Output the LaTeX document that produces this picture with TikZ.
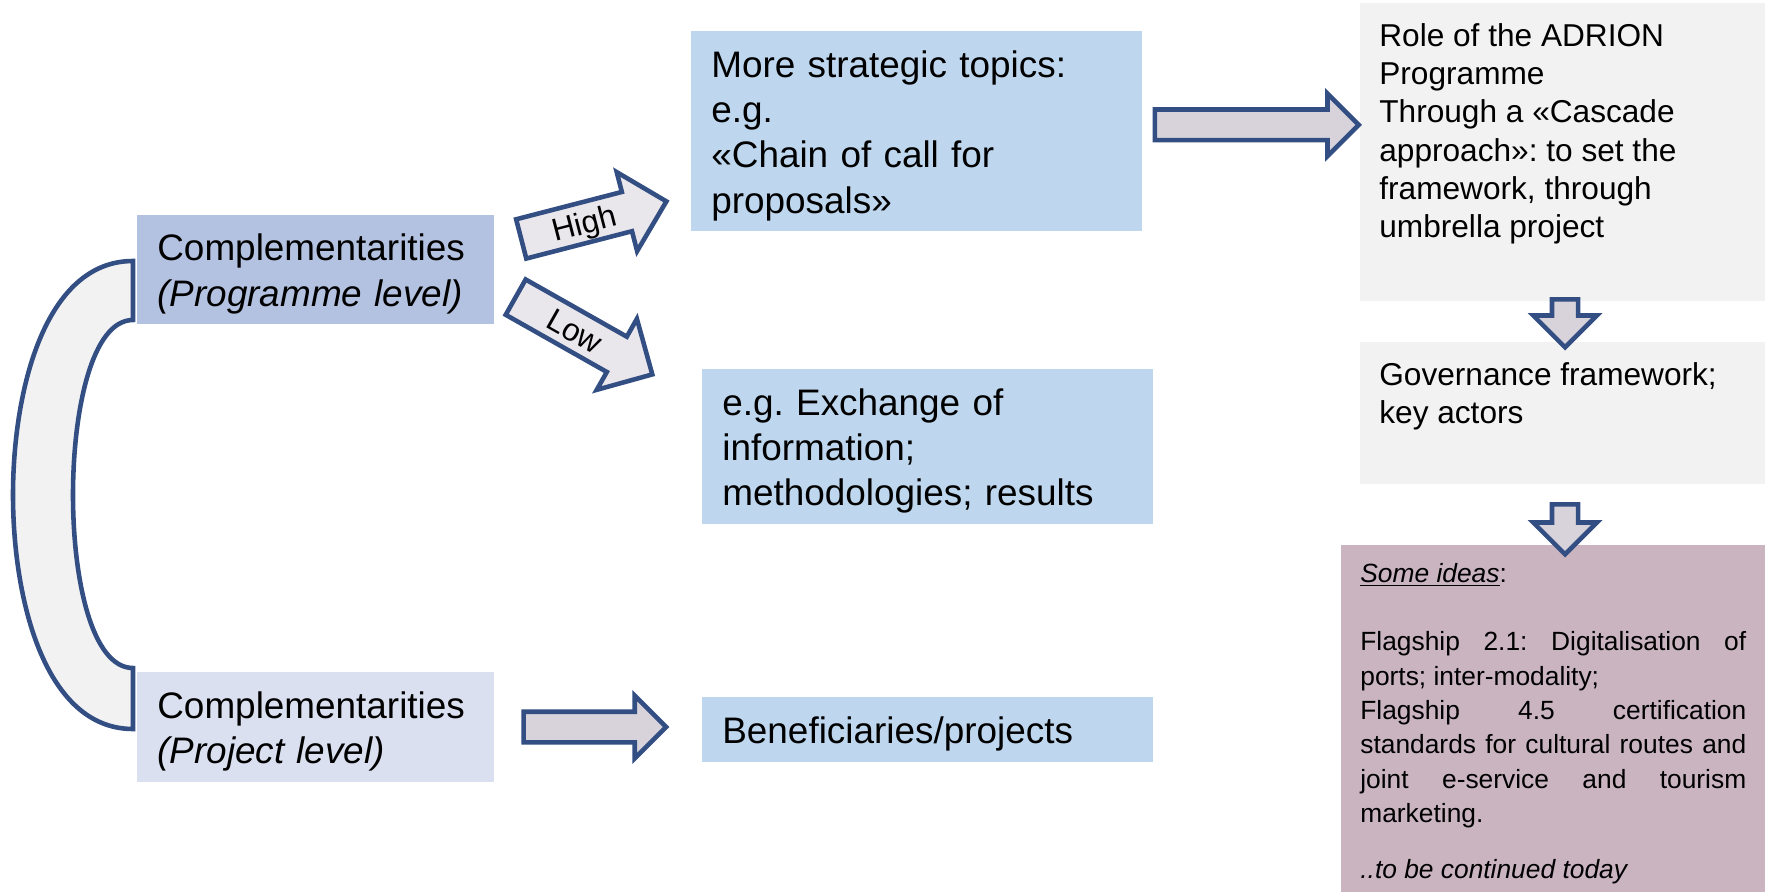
\documentclass[tikz,border=0pt]{standalone}
\usepackage{fontspec}
\setmainfont{Liberation Sans}
\usepackage{tikz}
\usetikzlibrary{positioning}
\usetikzlibrary{shapes.arrows}
\frenchspacing
\definecolor{progblue}{RGB}{180,194,225}
\definecolor{projblue}{RGB}{218,224,240}
\definecolor{topicblue}{RGB}{190,215,238}
\definecolor{rolegray}{RGB}{242,242,242}
\definecolor{ideamauve}{RGB}{201,180,192}
\definecolor{arrowline}{RGB}{50,78,130}
\definecolor{arrowfill}{RGB}{216,211,219}
\definecolor{tiltfill}{RGB}{233,231,236}
\tikzset{
tile/.style={ % Sets the properties for each coloured box
rectangle, anchor=north west,
inner xsep=0.4cm, inner ysep=0pt,
align=left,
execute at begin node={\rule{0pt}{0.95em}}, % text sits a bit low
font=\fontsize{21}{25.8}\selectfont},
toptile/.style={ % Boxes whose text starts at the top
rectangle, anchor=north west,
inner xsep=0.38cm, inner ysep=0.4cm},
fatarrow/.style={ % Block arrows between the boxes
single arrow, draw=arrowline, fill=arrowfill,
line width=2.6pt, inner sep=0pt,
text height=0.52cm, text depth=0pt,
single arrow tip angle=90,
single arrow head extend=0.32cm},
droparrow/.style={
fatarrow, rotate=-90,
text height=0.43cm,
single arrow head extend=0.375cm},
tiltarrow/.style={ % High / Low arrows, text inside
fatarrow, fill=tiltfill,
text height=0.5875cm, text depth=0.1325cm,
single arrow head extend=0.41cm,
font=\fontsize{18}{20}\selectfont}}
\newcommand{\topbox}[3]{\parbox[t][#1][t]{#2}{\raggedright #3}}

\begin{document}
\begin{tikzpicture}[x=0.02cm, y=-0.02cm]
\useasboundingbox (0,0) rectangle (1765,892);
\node[tile, fill=progblue, minimum width=7.14cm, minimum height=2.18cm, text width=6.34cm] (prog) at (137,215) {Complementarities\\\textit{(Programme level)}};
\node[tile, fill=projblue, minimum width=7.14cm, minimum height=2.2cm, text width=6.34cm] (proj) at (137,672) {Complementarities\\\textit{(Project level)}};
\node[tile, fill=topicblue, minimum width=9.02cm, minimum height=4.0cm, text width=8.22cm] (strat) at (691,31) {More strategic topics:\\e.g.\\«Chain of call for\\proposals»};
\node[tile, fill=topicblue, minimum width=9.02cm, minimum height=3.1cm, text width=8.22cm] (exch) at (702,369) {e.g. Exchange of\\information;\\methodologies; results};
\node[tile, fill=topicblue, minimum width=9.02cm, minimum height=1.3cm, text width=8.22cm] (benef) at (702,697) {Beneficiaries/projects};
\node[toptile, fill=rolegray] (role) at (1360,3) {\topbox{5.16cm}{7.34cm}{\fontsize{18}{21.8}\selectfont Role of the ADRION\\Programme\\Through a «Cascade\\approach»: to set the\\framework, through\\umbrella project}};
\node[toptile, fill=rolegray] (gov) at (1360,342) {\topbox{2.04cm}{7.34cm}{\fontsize{18}{21.8}\selectfont Governance framework;\\key actors}};
\node[toptile, fill=ideamauve, inner ysep=0.36cm] (ideas) at (1341,545) {\topbox{6.22cm}{7.72cm}{\fontsize{15}{19.5}\selectfont
\underline{\textit{Some ideas}}:\\[19.5pt]
\makebox[\linewidth][s]{Flagship 2.1: Digitalisation of}\\
ports; inter-modality;\\
\makebox[\linewidth][s]{Flagship 4.5 certification}\\
\makebox[\linewidth][s]{standards for cultural routes and}\\
\makebox[\linewidth][s]{joint e-service and tourism}\\
marketing.\\[12.7pt]
\textit{..to be continued today}}};
% curved band joining the two levels
\draw[draw=arrowline, fill=rolegray, line width=2.6pt]
(133,261) .. controls (45,261) and (13,390) .. (13,495)
.. controls (13,600) and (45,729) .. (133,729) -- (133,668)
.. controls (92,668) and (73,580) .. (73,495)
.. controls (73,410) and (92,320) .. (133,320) -- cycle;
\node[tiltarrow, rotate=14.5, minimum height=3cm, anchor=tail] (high) at (519,239.5) {High};
\node[tiltarrow, rotate=-29.5, minimum height=3.14cm, anchor=tail] (low) at (513.7,296) {Low};
\node[fatarrow, minimum height=4.08cm, anchor=tail] (bigarr) at (1152.5,124.8) {};
\node[fatarrow, minimum height=2.85cm, anchor=tail] (benarr) at (521.3,727) {};
\node[droparrow, minimum height=0.96cm, anchor=tail] (drop1) at (1565,297) {};
\node[droparrow, minimum height=1.0cm, anchor=tail] (drop2) at (1565,502) {};
\end{tikzpicture}
\end{document}
